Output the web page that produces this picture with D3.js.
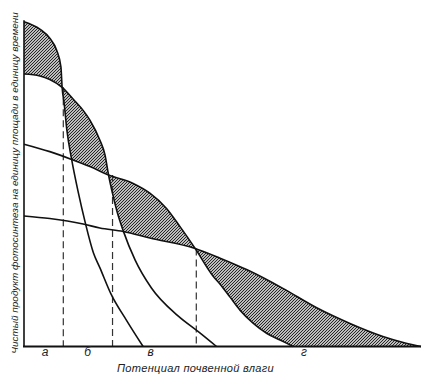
<!DOCTYPE html>
<html>
<head>
<meta charset="utf-8">
<script src="https://cdn.jsdelivr.net/npm/d3@7"></script>
<style>
  html, body { margin: 0; padding: 0; background: #fff; }
  svg { display: block; }
  text { font-family: "Liberation Sans", Arial, sans-serif; font-style: italic; fill: #222; }
</style>
</head>
<body>
<script>
// ---- Data (arbitrary units: x = soil water potential 0..100, y = net photosynthesis 0..100) ----
const curveA = [
  [0, 100], [4.0, 97.7], [6.5, 94.9], [8.2, 91.3], [9.3, 86.1], [9.6, 79.8],
  [10.1, 75.0], [10.8, 66.6], [12.0, 57.6], [13.7, 47.3], [15.4, 38.3],
  [17.5, 28.8], [19.1, 24.3], [21.9, 16.2], [25.9, 7.9], [30.0, 0]
];
const curveB = [
  [0, 83.9], [4.0, 83.3], [6.5, 82.2], [9.6, 79.8], [12.8, 75.6], [14.9, 72.7],
  [16.6, 69.7], [19.1, 63.6], [20.4, 59.0], [21.3, 52.8], [22.4, 46.6],
  [23.4, 41.7], [25.0, 35.6], [28.0, 26.6], [32.1, 18.0], [38.8, 9.4],
  [44.3, 4.2], [48.5, 0]
];
const curveC = [
  [0, 62.3], [6.5, 60.0], [12.0, 57.6], [16.6, 55.4], [21.3, 52.8], [27.5, 50.2],
  [31.7, 47.2], [35.9, 42.5], [39.3, 36.9], [43.1, 30.2], [47.6, 21.7],
  [49.4, 19.2], [51.9, 15.2], [54.4, 11.2], [57.7, 7.2], [61.2, 4.0],
  [64.5, 2.0], [67.8, 0]
];
const curveD = [
  [0, 40.2], [6.5, 39.4], [14.9, 37.7], [19.1, 36.5], [25.0, 35.4], [31.7, 33.4],
  [43.1, 30.2], [49.4, 27.2], [56.2, 23.6], [65.2, 17.9], [73.6, 12.0],
  [82.1, 7.1], [90.4, 3.1], [96.0, 1.1], [100, 0]
];
// dashed verticals at the crossing points of the envelope: [x, top y]
const crossings = [[9.9, 79.8], [22.3, 52.8], [43.4, 30.2]];
// zone labels under the axis
const zoneLabels = ["а", "б", "в", "г"];
const zonePositions = [5.3, 16.0, 31.9, 70.5];
const xTitle = "Потенциал почвенной влаги";
const yTitle = "Чистый продукт фотосинтеза на единицу площади в единицу времени";

// ---- Chart ----
const W = 425, H = 377;
const x = d3.scaleLinear().domain([0, 100]).range([24, 421]);
const y = d3.scaleLinear().domain([0, 100]).range([346.5, 21.7]);

const svg = d3.select("body").append("svg").attr("width", W).attr("height", H);
const defs = svg.append("defs");

const curves = [curveA, curveB, curveC, curveD];
const curveType = d3.curveMonotoneX;
const line = d3.line().x(d => x(d[0])).y(d => y(d[1])).curve(curveType);
const area = d3.area().x(d => x(d[0])).y0(y(0)).y1(d => y(d[1])).curve(curveType);

// hatch pattern "/"
const pat = defs.append("pattern").attr("id", "hatch")
  .attr("patternUnits", "userSpaceOnUse").attr("width", 3).attr("height", 3);
pat.append("path").attr("d", "M-1,1 L1,-1 M0,3 L3,0 M2,4 L4,2")
  .attr("stroke", "#1e1e1e").attr("stroke-width", 1.15);

// clip paths for each area
curves.forEach((c, i) => {
  defs.append("clipPath").attr("id", "clip" + i).append("path").attr("d", area(c));
});

// mask = region between upper envelope and second-highest curve
const mask = defs.append("mask").attr("id", "envMask")
  .attr("maskUnits", "userSpaceOnUse").attr("x", 0).attr("y", 0).attr("width", W).attr("height", H);
curves.forEach(c => mask.append("path").attr("d", area(c)).attr("fill", "#fff"));
for (let i = 0; i < curves.length; i++) {
  for (let j = 0; j < curves.length; j++) {
    if (i === j) continue;
    mask.append("g").attr("clip-path", `url(#clip${j})`)
      .append("path").attr("d", area(curves[i])).attr("fill", "#000");
  }
}
svg.append("rect").attr("x", x(0)).attr("y", y(100) - 2).attr("width", x(100) - x(0)).attr("height", y(0) - y(100) + 2)
  .attr("fill", "url(#hatch)").attr("mask", "url(#envMask)");

// dashed lines
svg.selectAll("line.dash").data(crossings).join("line")
  .attr("class", "dash")
  .attr("x1", d => x(d[0])).attr("x2", d => x(d[0]))
  .attr("y1", d => y(d[1])).attr("y2", y(0))
  .attr("stroke", "#333").attr("stroke-width", 1.2).attr("stroke-dasharray", "7,4");

// curves
svg.selectAll("path.curve").data(curves).join("path")
  .attr("class", "curve").attr("d", line)
  .attr("fill", "none").attr("stroke", "#111").attr("stroke-width", 1.6);

// axes
svg.append("line").attr("x1", x(0)).attr("x2", x(0)).attr("y1", y(100) - 1.5).attr("y2", y(0))
  .attr("stroke", "#111").attr("stroke-width", 1.6);
svg.append("line").attr("x1", x(0) - 1).attr("x2", x(100)).attr("y1", y(0)).attr("y2", y(0))
  .attr("stroke", "#111").attr("stroke-width", 2);

// zone labels
svg.selectAll("text.zone").data(zoneLabels).join("text")
  .attr("class", "zone")
  .attr("x", (d, i) => x(zonePositions[i])).attr("y", 356)
  .attr("text-anchor", "middle").attr("font-size", 12).text(d => d);

// titles: font size fitted so that the natural text length matches the target width
function fitText(sel, target) {
  sel.attr("font-size", 10);
  const len = sel.node().getComputedTextLength();
  sel.attr("font-size", (10 * target / len).toFixed(2));
}
const xt = svg.append("text").attr("x", 195.5).attr("y", 371.5).attr("text-anchor", "middle")
  .attr("letter-spacing", 0.3).text(xTitle);
fitText(xt, 158);
const yt = svg.append("text").attr("transform", "translate(17.5,183) rotate(-90)")
  .attr("text-anchor", "middle").text(yTitle);
fitText(yt, 342);
</script>
</body>
</html>
